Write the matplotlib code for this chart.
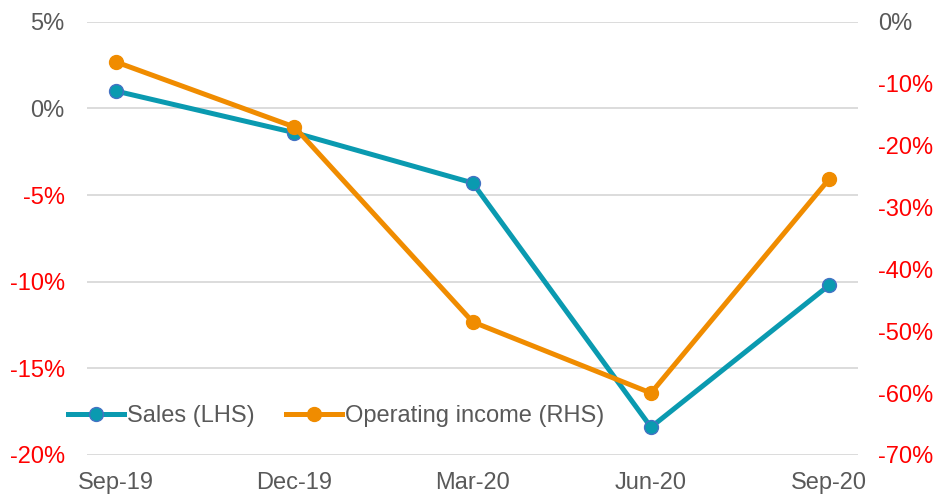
import matplotlib.pyplot as plt
from matplotlib.ticker import FuncFormatter

# values
quarters = ['Sep-19', 'Dec-19', 'Mar-20', 'Jun-20', 'Sep-20']
sales = [1.0, -1.4, -4.3, -18.4, -10.2]            # % LHS
op_income = [-6.5, -17.0, -48.5, -60.0, -25.4]     # % RHS
left_ticks = [5, 0, -5, -10, -15, -20]
right_ticks = [0, -10, -20, -30, -40, -50, -60, -70]

teal = '#0A9AB0'
orange = '#F08C00'
grey = '#595959'

plt.rcParams['font.family'] = ['Liberation Sans', 'DejaVu Sans']

fig = plt.figure(figsize=(9.36, 4.95), dpi=100)
ax = fig.add_axes([0.093, 0.081, 0.824, 0.875])
ax2 = ax.twinx()

x = range(len(quarters))
l1, = ax.plot(x, sales, color=teal, lw=3.6, marker='o', ms=10,
              mfc=teal, mec='#4472C4', mew=1, label='Sales (LHS)', zorder=3)
l2, = ax2.plot(x, op_income, color=orange, lw=3.6, marker='o', ms=10,
               mfc=orange, mec=orange, label='Operating income (RHS)', zorder=3)

ax.set_ylim(-20, 5)
ax2.set_ylim(-70, 0)
ax.set_xlim(-0.163, 4.163)
ax.set_yticks(left_ticks)
ax2.set_yticks(right_ticks)
ax.set_xticks(list(x))
ax.set_xticklabels(quarters)

fmt = FuncFormatter(lambda v, p: f'{v:.0f}%')
ax.yaxis.set_major_formatter(fmt)
ax2.yaxis.set_major_formatter(fmt)

ax.grid(axis='y', color='#D9D9D9', lw=1.3)
ax.set_axisbelow(True)
for a in (ax, ax2):
    for s in a.spines.values():
        s.set_visible(False)
    a.tick_params(length=0, labelsize=17, colors=grey)
ax.tick_params(axis='y', pad=16)
ax2.tick_params(axis='y', pad=14)
ax.tick_params(axis='x', pad=12)

for lab, v in zip(ax.get_yticklabels(), left_ticks):
    lab.set_color('red' if v < 0 else grey)
for lab, v in zip(ax2.get_yticklabels(), right_ticks):
    lab.set_color('red' if v < 0 else grey)

leg = ax2.legend(handles=[l1, l2], loc='center left', bbox_to_anchor=(-0.025, 0.09),
                 ncol=2, frameon=False, fontsize=17, handlelength=2.37,
                 handletextpad=0.15, columnspacing=1.3, borderaxespad=0,
                 borderpad=0)
for t in leg.get_texts():
    t.set_color(grey)

fig.savefig('out.png', dpi=100)
